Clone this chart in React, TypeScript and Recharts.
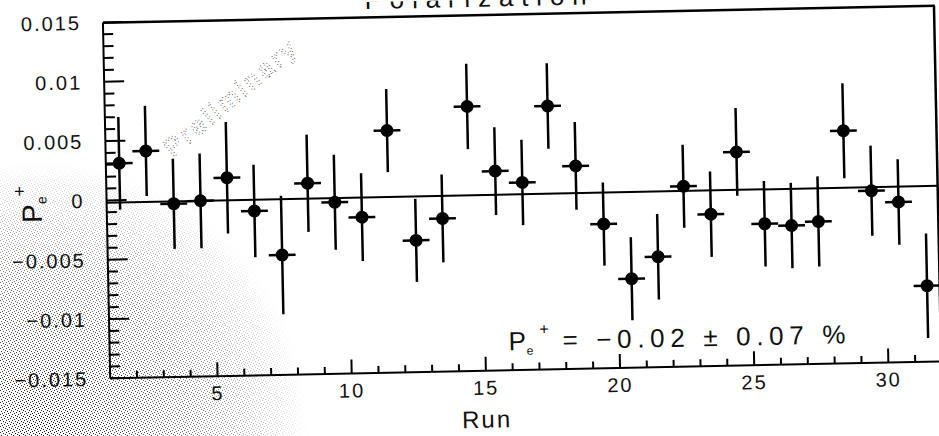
import { ScatterChart, Scatter, XAxis, YAxis, ErrorBar, ReferenceLine } from "recharts";

// run numbers (plotted at bin centres)
const runs = [
  1, 2, 3, 4, 5, 6, 7, 8, 9, 10, 11, 12, 13, 14, 15, 16, 17, 18, 19, 20, 21, 22, 23, 24, 25, 26, 27, 28, 29, 30, 31,
];
const polarization = [
  0.0031, 0.0041, -0.0004, -0.0002, 0.0017, -0.00115, -0.0049, 0.0011, -0.00055, -0.00185, 0.0054, -0.0039,
  -0.0021, 0.0073, 0.0018, 0.0008, 0.0072, 0.0021, -0.00285, -0.0075, -0.0057, 0.0002, -0.0022, 0.003, -0.0031,
  -0.0033, -0.003, 0.0046, -0.0005, -0.0015, -0.0086,
];
const polErrors = [
  0.0039, 0.0038, 0.0038, 0.004, 0.0047, 0.0039, 0.005, 0.0041, 0.004, 0.0037, 0.0035, 0.0035, 0.0037, 0.0036,
  0.0037, 0.0036, 0.0036, 0.0037, 0.0035, 0.0035, 0.0036, 0.0035, 0.0036, 0.0037, 0.0036, 0.0036, 0.0038, 0.004,
  0.0038, 0.0036, 0.0044,
];
const fitValue = -0.0002;

const xTicks = [2, 3, 4, 5, 6, 7, 8, 9, 10, 11, 12, 13, 14, 15, 16, 17, 18, 19, 20, 21, 22, 23, 24, 25, 26, 27, 28, 29, 30, 31];
const xMajor = [5, 10, 15, 20, 25, 30];
const yMajor = [-0.015, -0.01, -0.005, 0, 0.005, 0.01, 0.015];
const yMajorLabels = ["\u22120.015", "\u22120.01", "\u22120.005", "0", "0.005", "0.01", "0.015"];
const yTicks = Array.from({ length: 31 }, (_, i) => (i - 15) / 1000);

const data = runs.map((r, i) => ({ x: r + 0.5, y: polarization[i], ey: polErrors[i], ex: 0.5 }));

const FONT = "'Liberation Sans', Arial, sans-serif";

function XTick({ x, y, payload }: any) {
  const major = xMajor.includes(payload.value);
  return (
    <g>
      <line x1={x} x2={x} y1={y} y2={y - (major ? 14 : 7)} stroke="#000" strokeWidth={2} />
      {major && (
        <text x={x} y={y + 24} textAnchor="middle" fontSize={20} fontFamily={FONT} letterSpacing={2} fill="#111">
          {payload.value}
        </text>
      )}
    </g>
  );
}

function YTick({ x, y, payload }: any) {
  const idx = yMajor.findIndex((v) => Math.abs(v - payload.value) < 1e-7);
  const major = idx >= 0;
  return (
    <g>
      <line x1={x} x2={x + (major ? 20 : 10)} y1={y} y2={y} stroke="#000" strokeWidth={2} />
      {major && (
        <text x={x - 22} y={y} dy="0.36em" textAnchor="end" fontSize={20} fontFamily={FONT} letterSpacing={2} fill="#111">
          {yMajorLabels[idx]}
        </text>
      )}
    </g>
  );
}

function Dot({ cx, cy }: any) {
  return <circle cx={cx} cy={cy} r={6.5} fill="#000" />;
}

export default function App() {
  return (
    <div style={{ position: "absolute", left: 0, top: 0, width: 939, height: 436, overflow: "hidden", background: "#fff" }}>
      <div
        style={{
          position: "absolute",
          left: 0,
          top: 0,
          width: 939,
          height: 436,
          transform: "rotate(-1.17deg)",
          transformOrigin: "469.5px 218px",
        }}
      >
        <ScatterChart width={944} height={436} margin={{ top: 15, right: 5, bottom: 25, left: 47 }}>
          <XAxis
            type="number"
            dataKey="x"
            domain={[1, 32]}
            allowDataOverflow
            ticks={xTicks}
            interval={0}
            height={40}
            tickSize={0}
            tickMargin={0}
            tickLine={false}
            axisLine={{ stroke: "#000", strokeWidth: 2 }}
            tick={<XTick />}
          />
          <YAxis
            type="number"
            dataKey="y"
            domain={[-0.015, 0.015]}
            allowDataOverflow
            ticks={yTicks}
            interval={0}
            width={60}
            tickSize={0}
            tickMargin={0}
            tickLine={false}
            axisLine={{ stroke: "#000", strokeWidth: 2 }}
            tick={<YTick />}
          />
          {/* frame: top and right edges */}
          <ReferenceLine y={0.01497} stroke="#000" strokeWidth={2.5} />
          <ReferenceLine x={31.97} stroke="#000" strokeWidth={2.5} />
          <ReferenceLine y={fitValue} stroke="#000" strokeWidth={2} />
          <Scatter data={data} dataKey="y" shape={<Dot />} isAnimationActive={false}>
            <ErrorBar dataKey="ey" direction="y" width={0} stroke="#000" strokeWidth={2.5} isAnimationActive={false} />
            <ErrorBar dataKey="ex" direction="x" width={0} stroke="#000" strokeWidth={2.5} isAnimationActive={false} />
          </Scatter>
        </ScatterChart>
        <svg width={944} height={436} style={{ position: "absolute", left: 0, top: 0, pointerEvents: "none" }}>
          <text x={480} y={7} textAnchor="middle" fontSize={26} fontFamily={FONT} textLength={222} lengthAdjust="spacing" fill="#111">
            Polarization
          </text>
          <text
            x={174}
            y={152}
            transform="rotate(-39 174 152)"
            fontSize={26}
            fontFamily={FONT}
            textLength={164}
            lengthAdjust="spacing"
            fill="none"
            stroke="#444"
            strokeWidth={0.8}
            strokeDasharray="1 2.5"
          >
            Preliminary
          </text>
          <text x={42} y={214} transform="rotate(-90 42 214)" fontSize={28} fontFamily={FONT} fill="#111">
            P
            <tspan fontSize={14} dy={5}>
              e
            </tspan>
            <tspan fontSize={18} dy={-21}>
              +
            </tspan>
          </text>
          <text x={483} y={428} textAnchor="middle" fontSize={24} fontFamily={FONT} letterSpacing={2} fill="#111">
            Run
          </text>
          <text x={506} y={351} fontSize={26} fontFamily={FONT} fill="#111">
            P
          </text>
          <text x={524} y={356} fontSize={12} fontFamily={FONT} fill="#111">
            e
          </text>
          <text x={537} y={336} fontSize={16} fontFamily={FONT} fill="#111">
            +
          </text>
          <text x={560} y={351} fontSize={26} fontFamily={FONT} textLength={283} lengthAdjust="spacing" fill="#111">
            = {"\u2212"}0.02 ± 0.07 %
          </text>
        </svg>
      </div>
      <svg width={939} height={436} style={{ position: "absolute", left: 0, top: 0, pointerEvents: "none" }}>
        <defs>
          <pattern id="stipple" width={6} height={6} patternUnits="userSpaceOnUse">
            <rect x={0} y={0} width={1} height={1} fill="#000" />
            <rect x={3} y={1} width={1} height={1} fill="#000" />
            <rect x={1} y={3} width={1} height={1} fill="#000" />
            <rect x={4} y={4} width={1} height={1} fill="#000" />
            <rect x={5} y={2} width={1} height={1} fill="#000" />
            <rect x={2} y={5} width={1} height={1} fill="#000" />
          </pattern>
          <radialGradient id="fade" gradientUnits="userSpaceOnUse" cx={40} cy={430} r={270}>
            <stop offset="0" stopColor="#fff" stopOpacity={0.95} />
            <stop offset="0.55" stopColor="#fff" stopOpacity={0.55} />
            <stop offset="1" stopColor="#fff" stopOpacity={0} />
          </radialGradient>
          <mask id="noiseMask">
            <rect x={0} y={0} width={939} height={436} fill="url(#fade)" />
          </mask>
        </defs>
        <rect x={0} y={0} width={939} height={436} fill="url(#stipple)" mask="url(#noiseMask)" />
      </svg>
    </div>
  );
}
